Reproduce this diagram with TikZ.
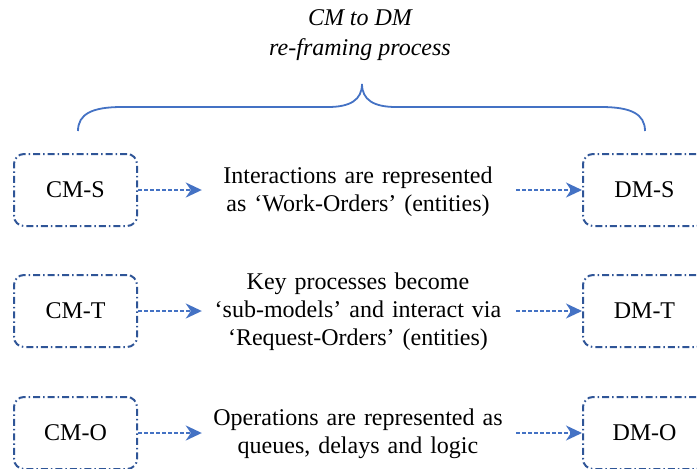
\documentclass[tikz,border=0pt]{standalone}
\usepackage{fontspec}
\setmainfont{Liberation Serif}
\usetikzlibrary{arrows.meta}
\definecolor{boxblue}{HTML}{2F5597}
\definecolor{arrowblue}{HTML}{4472C4}
\tikzset{
  model/.style={draw=boxblue, line width=2pt, rounded corners=10pt,
    dash pattern=on 7pt off 3pt on 1.5pt off 3pt,
    minimum width=123pt, minimum height=72pt, font=\fontsize{24}{28}\selectfont},
  desc/.style={align=center, text width=310pt, inner sep=0pt,
    font=\fontsize{24}{28}\selectfont},
  flow/.style={draw=arrowblue, line width=2pt, dash pattern=on 4pt off 2pt,
    -{Stealth[length=16pt,width=15pt,inset=5pt]}},
  brace/.style={draw=arrowblue, line width=1.8pt}
}
\begin{document}
\begin{tikzpicture}[x=1pt,y=-1pt]
  \useasboundingbox (0,0) rectangle (697,469);
  \clip (0,0) rectangle (697,469);

  % heading
  \node[font=\fontsize{24}{30}\selectfont\itshape, align=center] (title) at (360,35)
    {CM to DM\\re-framing process};

  % curly brace over the two columns
  \coordinate (bl) at (78,131);
  \coordinate (br) at (645,131);
  \coordinate (tip) at (362,84);
  \draw[brace] (bl) .. controls (78,114) and (92,107) .. (122,107) -- (328,107)
    .. controls (350,107) and (362,100) .. (tip)
    .. controls (362,100) and (374,107) .. (396,107) -- (601,107)
    .. controls (631,107) and (645,114) .. (br);

  % conceptual model side
  \node[model] (cms) at (75.5,190) {CM-S};
  \node[model] (cmt) at (75.5,311) {CM-T};
  \node[model] (cmo) at (75.5,433) {CM-O};

  % discrete model side
  \node[model] (dms) at (644.5,190) {DM-S};
  \node[model] (dmt) at (644.5,311) {DM-T};
  \node[model] (dmo) at (644.5,433) {DM-O};

  % re-framing descriptions
  \node[desc] (ts) at (358,192) {Interactions are represented\\as ‘Work-Orders’ (entities)};
  \node[desc] (tt) at (358,312) {Key processes become\\‘sub-models’ and interact via\\‘Request-Orders’ (entities)};
  \node[desc] (to) at (358,433.5) {Operations are represented as\\queues, delays and logic};

  % arrows
  \draw[flow, shorten >=1pt] (cms.east) -- (cms.east -| ts.west);
  \draw[flow, shorten <=3pt] (dms.west -| ts.east) -- (dms.west);
  \draw[flow, shorten >=1pt] (cmt.east) -- (cmt.east -| tt.west);
  \draw[flow, shorten <=3pt] (dmt.west -| tt.east) -- (dmt.west);
  \draw[flow, shorten >=1pt] (cmo.east) -- (cmo.east -| to.west);
  \draw[flow, shorten <=3pt] (dmo.west -| to.east) -- (dmo.west);
\end{tikzpicture}
\end{document}
